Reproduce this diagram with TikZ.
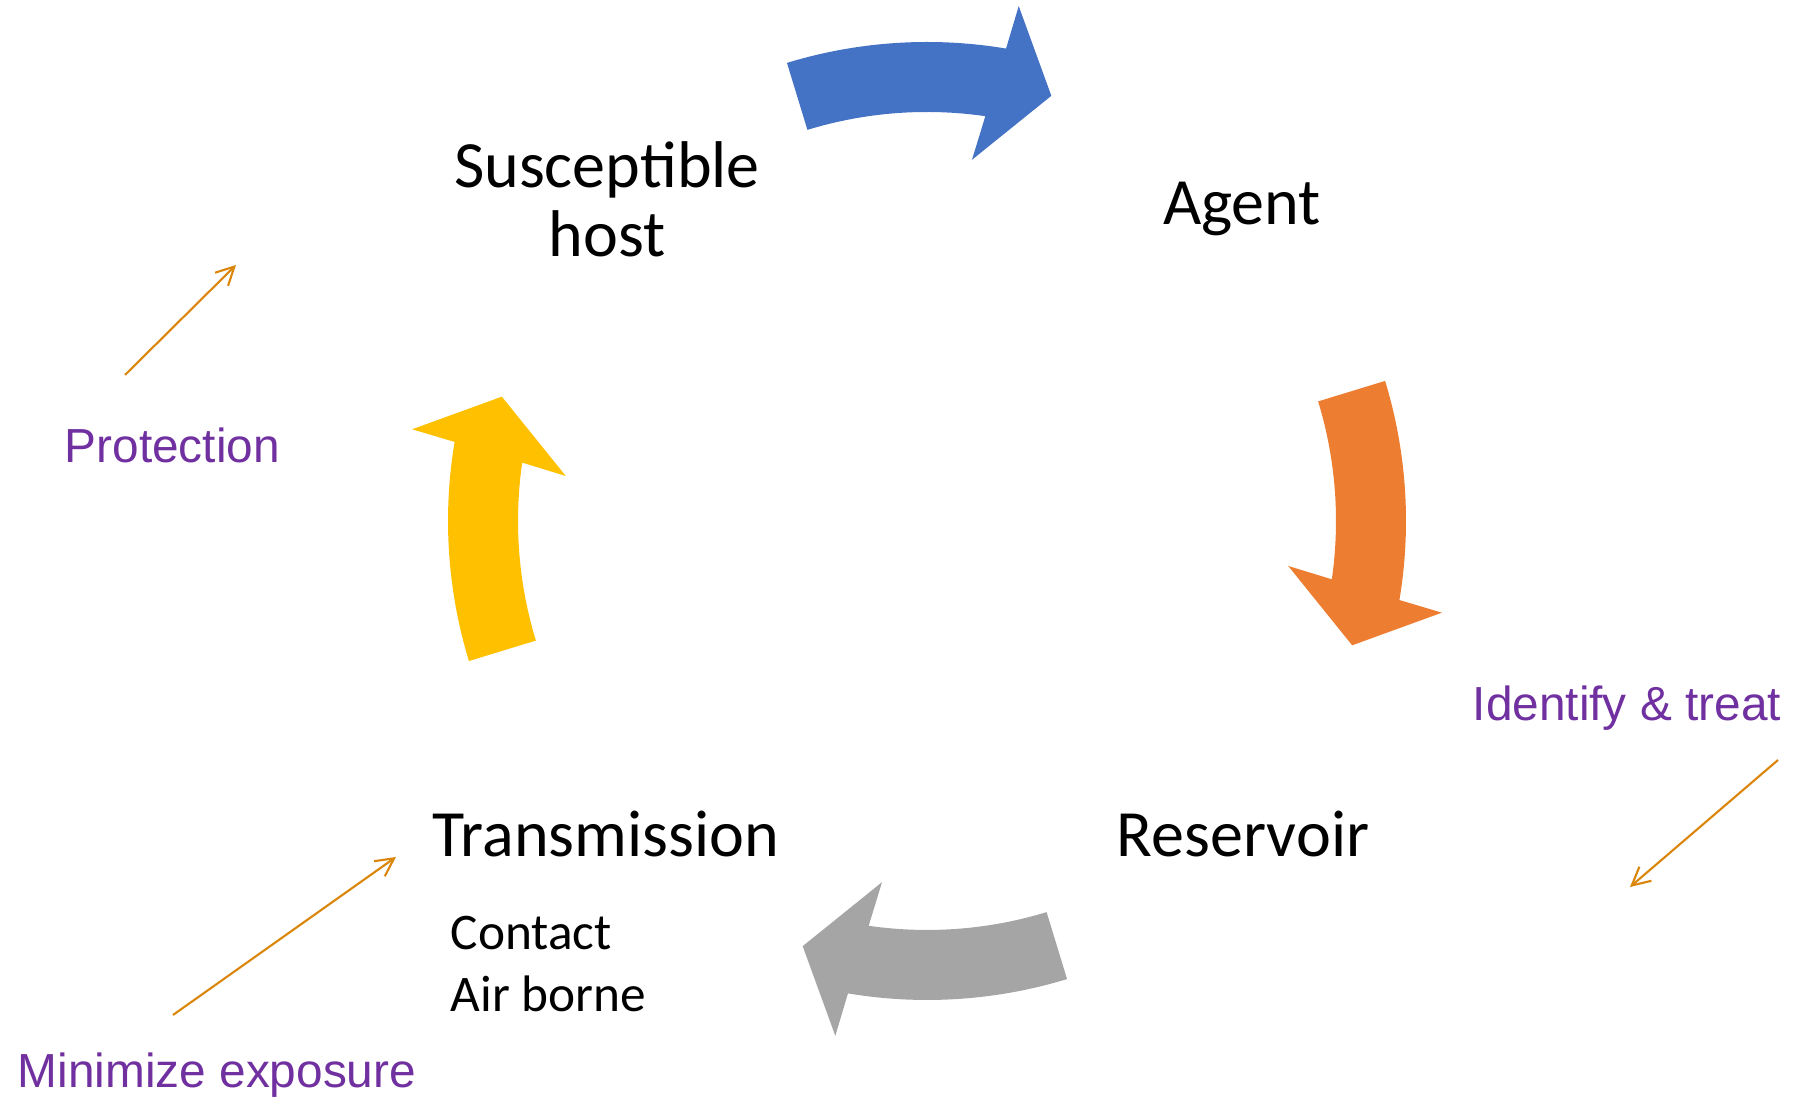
\documentclass[tikz,border=0pt]{standalone}
\usepackage{fontspec}
\setmainfont{Carlito}
\newfontfamily\arialfont{Liberation Sans}
\usetikzlibrary{arrows.meta}
\definecolor{cycblue}{HTML}{4472C4}
\definecolor{cycorange}{HTML}{ED7D31}
\definecolor{cycgray}{HTML}{A5A5A5}
\definecolor{cycyellow}{HTML}{FFC000}
\definecolor{actionpurple}{HTML}{7030A0}
\definecolor{pointer}{HTML}{D9860A}

\begin{document}
\begin{tikzpicture}[
    stage/.style={font=\fontsize{18.8}{19.9}\selectfont, inner sep=0pt, anchor=base, align=center},
    route/.style={font=\fontsize{14.6}{17.9}\selectfont, inner sep=0pt, anchor=base west, align=left},
    action/.style={font=\arialfont\fontsize{13.6}{16}\selectfont, text=actionpurple, inner sep=0pt, anchor=base west},
    hint/.style={draw=pointer, line width=0.6pt, -{Straight Barb[length=1.8mm,width=1.85mm]}}]
    \useasboundingbox (0,0) rectangle (17.93,11.01);
    \coordinate (hub) at (9.27,5.80);
    \foreach \turn/\col in {0/cycblue,-90/cycorange,-180/cycgray,-270/cycyellow}
      \fill[\col, shift={(hub)}, rotate=\turn] (107:4.79) arc[start angle=107, end angle=80.5, radius=4.79]
        -- (79.9:5.23) -- (73.7:4.43) -- (82.9:3.64) -- (81.8:4.09)
        arc[start angle=81.8, end angle=107, radius=4.09] -- cycle;
    \node[stage] (host) at (6.07,8.44) {Susceptible\\host};
    \node[stage] (agent) at (12.42,8.76) {Agent};
    \node[stage] (reservoir) at (12.43,2.44) {Reservoir};
    \node[stage] (transmission) at (6.06,2.44) {Transmission};
    \node[route] (routes) at (4.50,0.89) {Contact\\Air borne};
    \node[action] (protection) at (0.64,6.38) {Protection};
    \node[action] (identify) at (14.72,3.80) {Identify \& treat};
    \node[action] (minimize) at (0.17,0.13) {Minimize exposure};
    \coordinate (prot-a) at (1.25,7.26);
    \coordinate (prot-b) at (2.36,8.36);
    \coordinate (iden-a) at (17.78,3.41);
    \coordinate (iden-b) at (16.30,2.14);
    \coordinate (mini-a) at (1.73,0.86);
    \coordinate (mini-b) at (3.96,2.44);
    \draw[hint] (prot-a) -- (prot-b);
    \draw[hint] (iden-a) -- (iden-b);
    \draw[hint] (mini-a) -- (mini-b);
  \end{tikzpicture}
\end{document}
